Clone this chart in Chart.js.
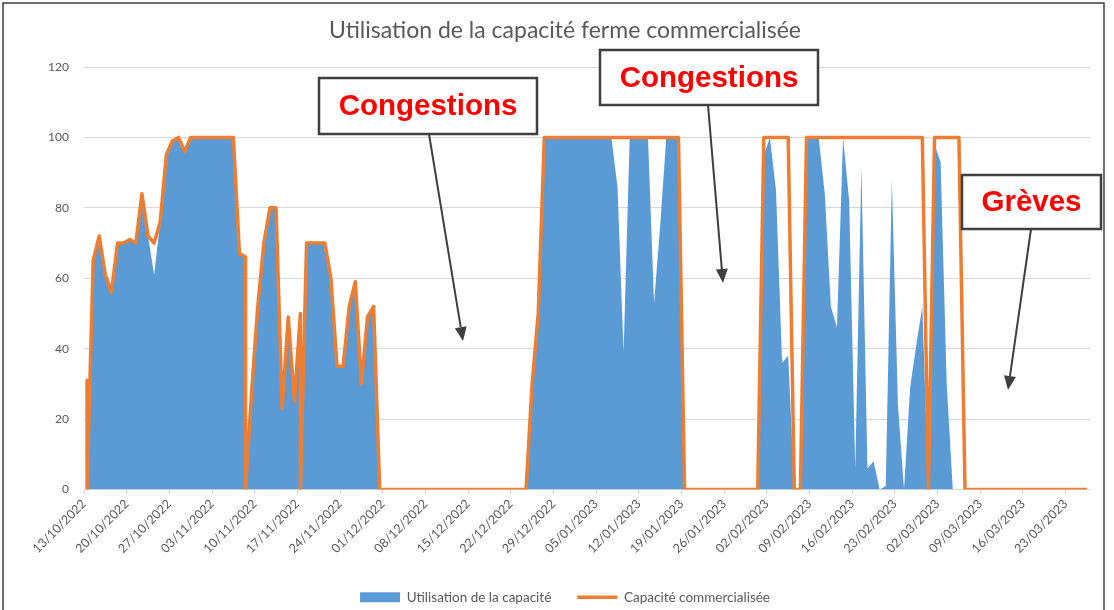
<!DOCTYPE html>
<html lang="fr">
<head>
<meta charset="utf-8">
<title>Utilisation de la capacité ferme commercialisée</title>
<script src="https://cdn.jsdelivr.net/npm/chart.js@4.4.1/dist/chart.umd.min.js"></script>
<style>
  html, body { margin: 0; padding: 0; background: #fff; }
  canvas { display: block; }
</style>
</head>
<body>
<canvas id="chartCapacite" width="1114" height="610"></canvas>
<script>
// relevés journaliers du 13/10/2022 au 26/03/2023
// certains jours ont deux relevés (chute à 0 dans la journée)
const premierJour = '13/10/2022';
const nombreJours = 165;
const joursDoubles = ['13/10/2022', '08/11/2022', '17/11/2022'];

// une ligne = une semaine (à partir du 13/10/2022)
const capaciteCommercialisee = [
  31, 0, 65, 72, 61, 56, 70, 70,
  71, 70, 84, 72, 70, 76, 95,
  99, 100, 96, 100, 100, 100, 100,
  100, 100, 100, 100, 67, 66, 0, 28,
  52, 70, 80, 80, 23, 49, 25,
  50, 0, 70, 70, 70, 70, 60, 35,
  35, 52, 59, 30, 49, 52, 0,
  0, 0, 0, 0, 0, 0, 0,
  0, 0, 0, 0, 0, 0, 0,
  0, 0, 0, 0, 0, 0, 0,
  0, 0, 0, 30, 50, 100, 100,
  100, 100, 100, 100, 100, 100, 100,
  100, 100, 100, 100, 100, 100, 100,
  100, 100, 100, 100, 100, 100, 100,
  0, 0, 0, 0, 0, 0, 0,
  0, 0, 0, 0, 0, 0, 100,
  100, 100, 100, 100, 0, 0, 100,
  100, 100, 100, 100, 100, 100, 100,
  100, 100, 100, 100, 100, 100, 100,
  100, 100, 100, 100, 100, 0, 100,
  100, 100, 100, 100, 0, 0, 0,
  0, 0, 0, 0, 0, 0, 0,
  0, 0, 0, 0, 0, 0, 0,
  0, 0, 0, 0
];

const utilisationCapacite = [
  31, 0, 65, 72, 61, 56, 70, 70,
  71, 70, 84, 72, 61, 76, 95,
  99, 100, 96, 100, 100, 100, 100,
  100, 100, 100, 100, 67, 66, 0, 28,
  52, 70, 80, 80, 23, 49, 25,
  50, 0, 70, 70, 70, 70, 60, 35,
  35, 52, 59, 30, 49, 52, 0,
  0, 0, 0, 0, 0, 0, 0,
  0, 0, 0, 0, 0, 0, 0,
  0, 0, 0, 0, 0, 0, 0,
  0, 0, 0, 30, 50, 100, 100,
  100, 100, 100, 100, 100, 100, 100,
  100, 100, 100, 86, 39, 100, 100,
  100, 100, 53, 75, 100, 100, 100,
  0, 0, 0, 0, 0, 0, 0,
  0, 0, 0, 0, 0, 0, 95,
  100, 85, 36, 38, 0, 0, 100,
  100, 100, 84, 52, 46, 100, 82,
  6, 92, 6, 8, 0, 1, 88,
  24, 0, 29, 41, 52, 0, 98,
  93, 30, 0, 0, 0, 0, 0,
  0, 0, 0, 0, 0, 0, 0,
  0, 0, 0, 0, 0, 0, 0,
  0, 0, 0, 0
];

const bleu = '#5B9BD5';
const orange = '#ED7D31';
const gris = '#595959';

function jourDe(txt) {
  const [j, m, a] = txt.split('/').map(Number);
  return Date.UTC(a, m - 1, j) / 86400000;
}
function texteDe(n) {
  const d = new Date(n * 86400000);
  return String(d.getUTCDate()).padStart(2, '0') + '/' +
    String(d.getUTCMonth() + 1).padStart(2, '0') + '/' + d.getUTCFullYear();
}

const j0 = jourDe(premierJour);
const dates = [];
for (let i = 0; i < nombreJours; i++) {
  const t = texteDe(j0 + i);
  dates.push(t);
  if (joursDoubles.includes(t)) dates.push(t);
}
// chaque relevé est placé au milieu de sa journée
const points = valeurs => dates.map((d, i) => ({ x: jourDe(d) - j0 + 0.5, y: valeurs[i] }));

// encadrés ajoutés sur le graphique
const encadres = [
  { texte: 'Congestions', boite: [319, 78, 218, 56], fleche: [429, 134, 463, 341] },
  { texte: 'Congestions', boite: [600, 50, 218, 55], fleche: [708, 105, 723, 283] },
  { texte: 'Grèves', boite: [962, 175, 139, 54], fleche: [1031, 229, 1008, 390] }
];

const pluginEncadres = {
  id: 'encadres',
  afterLayout(chart) {
    // légende un peu plus bas
    chart.legend.top += 4;
    chart.legend.bottom += 4;
  },
  afterDraw(chart) {
    const ctx = chart.ctx;
    ctx.save();
    // cadre du graphique
    ctx.strokeStyle = '#3f3f3f';
    ctx.lineWidth = 1.5;
    ctx.strokeRect(3, 3, 1101, 700);

    encadres.forEach(e => {
      const [x, y, w, h] = e.boite;
      ctx.fillStyle = '#fff';
      ctx.fillRect(x, y, w, h);
      ctx.strokeStyle = '#3f3f3f';
      ctx.lineWidth = 2.5;
      ctx.strokeRect(x, y, w, h);
      ctx.fillStyle = '#ff0000';
      ctx.font = 'bold 29.5px "Liberation Sans", Arial, sans-serif';
      ctx.textAlign = 'center';
      ctx.textBaseline = 'middle';
      ctx.fillText(e.texte, x + w / 2, y + h / 2 + 1);

      const [x1, y1, x2, y2] = e.fleche;
      const ang = Math.atan2(y2 - y1, x2 - x1);
      const lg = 14, lr = 6;
      ctx.strokeStyle = '#3f3f3f';
      ctx.lineWidth = 2;
      ctx.beginPath();
      ctx.moveTo(x1, y1);
      ctx.lineTo(x2 - lg * Math.cos(ang), y2 - lg * Math.sin(ang));
      ctx.stroke();
      ctx.fillStyle = '#3f3f3f';
      ctx.beginPath();
      ctx.moveTo(x2, y2);
      ctx.lineTo(x2 - lg * Math.cos(ang) + lr * Math.sin(ang), y2 - lg * Math.sin(ang) - lr * Math.cos(ang));
      ctx.lineTo(x2 - lg * Math.cos(ang) - lr * Math.sin(ang), y2 - lg * Math.sin(ang) + lr * Math.cos(ang));
      ctx.closePath();
      ctx.fill();
    });
    ctx.restore();
  }
};

new Chart(document.getElementById('chartCapacite'), {
  type: 'line',
  data: {
    datasets: [{
      label: 'Utilisation de la capacité',
      data: points(utilisationCapacite),
      backgroundColor: bleu,
      borderColor: 'rgba(0,0,0,0)',
      borderWidth: 1,
      fill: 'origin',
      pointStyle: 'rect',
      order: 2
    }, {
      label: 'Capacité commercialisée',
      data: points(capaciteCommercialisee),
      borderColor: orange,
      backgroundColor: orange,
      borderWidth: 3.5,
      borderJoinStyle: 'round',
      fill: false,
      pointStyle: 'line',
      order: 1
    }]
  },
  options: {
    responsive: false,
    animation: false,
    elements: { point: { radius: 0, hoverRadius: 0 }, line: { tension: 0 } },
    layout: { padding: { left: 40, right: 24, top: 0, bottom: 0 } },
    plugins: {
      tooltip: { enabled: false },
      title: {
        display: true,
        text: 'Utilisation de la capacité ferme commercialisée',
        color: gris,
        font: { family: 'Lato', size: 23, weight: 'normal' },
        padding: { top: 17, bottom: 22.4 }
      },
      legend: {
        position: 'bottom',
        labels: {
          color: gris,
          font: { family: 'Lato', size: 13.5 },
          usePointStyle: true,
          pointStyleWidth: 40,
          boxHeight: 10,
          padding: 26,
          sort: (a, b) => a.datasetIndex - b.datasetIndex
        }
      }
    },
    scales: {
      x: {
        type: 'linear',
        min: 0,
        max: nombreJours,
        afterFit: s => { s.height = 71; },
        grid: { drawOnChartArea: false, drawTicks: true, tickLength: 5, color: '#d9d9d9' },
        border: { color: '#d9d9d9' },
        ticks: {
          stepSize: 7,
          includeBounds: false,
          autoSkip: false,
          maxRotation: 45,
          minRotation: 45,
          color: gris,
          font: { family: 'Lato', size: 12.5 },
          padding: 2,
          callback: v => texteDe(j0 + v)
        }
      },
      y: {
        min: 0,
        max: 120,
        afterFit: s => { s.width = 44; },
        grid: { color: '#d9d9d9', drawTicks: false },
        border: { display: false },
        ticks: {
          stepSize: 20,
          color: gris,
          font: { family: 'Lato', size: 12 },
          padding: 15
        }
      }
    }
  },
  plugins: [pluginEncadres]
});
</script>
</body>
</html>
